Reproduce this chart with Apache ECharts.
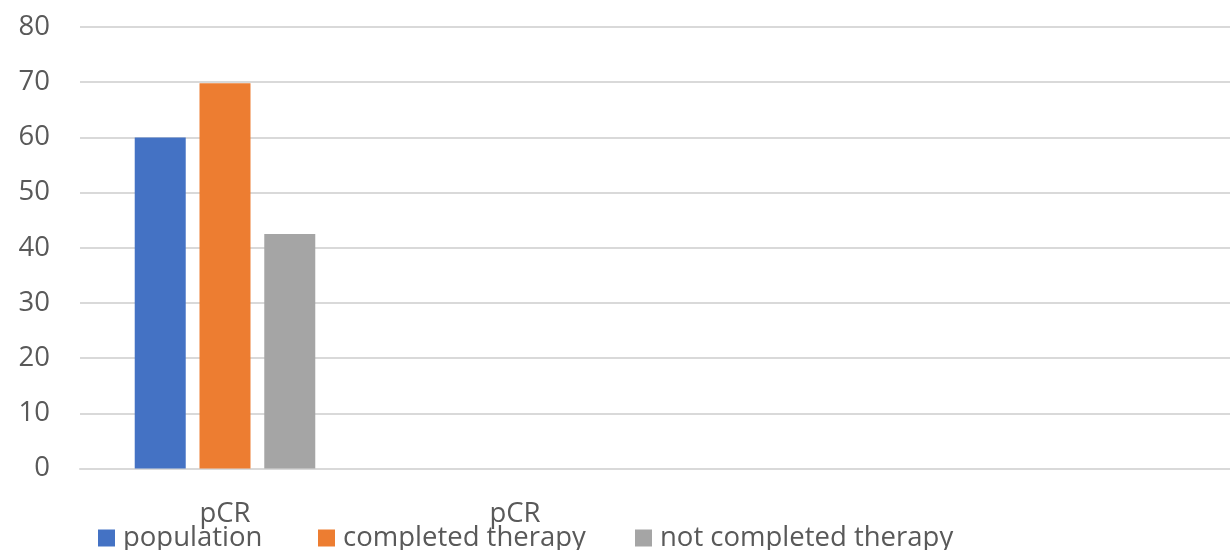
<!DOCTYPE html>
<html>
<head>
<meta charset="utf-8">
<title>pCR</title>
<script src="https://cdn.jsdelivr.net/npm/echarts@6/dist/echarts.min.js"></script>
<style>
  html, body { margin: 0; padding: 0; background: #ffffff; overflow: hidden; }
  /* the plot runs slightly past the right edge of the window */
  #chart { width: 1240px; height: 550px; }
</style>
</head>
<body>
<div id="chart"></div>
<script>
// Category labels (only the first two slots carry text)
const categories = ['pCR', 'pCR', '', ''];
// Percentages per group
const population = [60, null, null, null];
const completedTherapy = [69.8, null, null, null];
const notCompletedTherapy = [42.5, null, null, null];
// Value axis ticks
const yMin = 0;
const yMax = 80;
const yStep = 10;

const seriesNames = ['population', 'completed therapy', 'not completed therapy'];
const seriesColors = ['#4472C4', '#ED7D31', '#A5A5A5'];
const legendLefts = [98, 318, 635];

const textColor = '#595959';
const gridColor = '#D9D9D9';
const fontFamily = '"Open Sans", "Liberation Sans", sans-serif';
const fontSize = 27.5;

const chart = echarts.init(document.getElementById('chart'), null, { renderer: 'canvas' });

// one legend block per series so each entry sits at its own x
const legends = seriesNames.map((name, i) => ({
  left: legendLefts[i],
  top: 524,
  padding: 0,
  itemWidth: 17,
  itemHeight: 17,
  icon: 'rect',
  textStyle: { color: textColor, fontSize: fontSize, fontFamily: fontFamily, padding: [0, 0, 0, 3] },
  data: [name]
}));

const seriesData = [population, completedTherapy, notCompletedTherapy];

chart.setOption({
  animation: false,
  backgroundColor: '#ffffff',
  textStyle: { fontFamily: fontFamily },
  grid: { left: 80, right: 0, top: 27, bottom: 81.5, containLabel: false },
  legend: legends,
  xAxis: {
    type: 'category',
    data: categories,
    axisLine: { show: true, lineStyle: { color: gridColor, width: 2 } },
    axisTick: { show: false },
    axisLabel: { color: textColor, fontSize: fontSize, margin: 32, fontFamily: fontFamily, interval: 0 },
    splitLine: { show: false }
  },
  yAxis: {
    type: 'value',
    min: yMin,
    max: yMax,
    interval: yStep,
    axisLine: { show: false },
    axisTick: { show: false },
    axisLabel: { color: textColor, fontSize: fontSize, margin: 30, fontFamily: fontFamily },
    splitLine: { show: true, lineStyle: { color: gridColor, width: 2 } }
  },
  series: seriesNames.map((name, i) => ({
    name: name,
    type: 'bar',
    data: seriesData[i],
    barWidth: 51,
    barGap: '27%',
    itemStyle: { color: seriesColors[i] }
  }))
});
</script>
</body>
</html>
